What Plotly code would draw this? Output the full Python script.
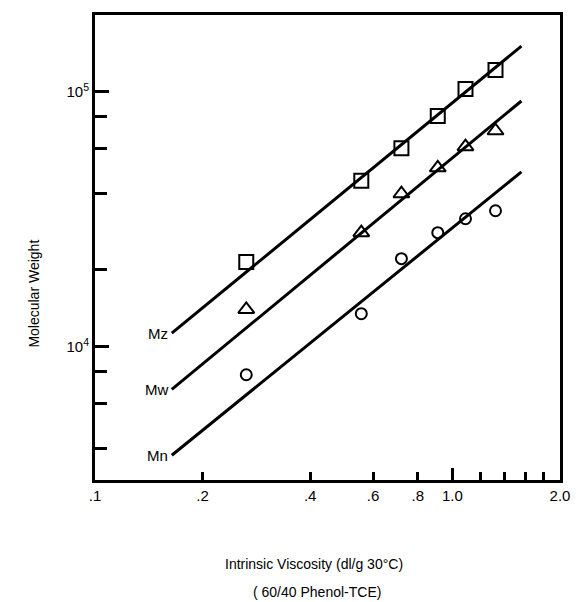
import numpy as np
import plotly.graph_objects as go

# ---- data ----
iv = [0.265, 0.556, 0.72, 0.91, 1.088, 1.32]          # intrinsic viscosity (dl/g)
mz_pts = [21500, 44800, 60000, 80300, 102500, 121700]
mw_pts = [14000, 28000, 39800, 50300, 60900, 70300]
mn_pts = [7760, 13470, 22140, 28000, 31760, 34140]

line_x = [0.164, 1.56]
mz_line = [11300, 151000]
mw_line = [6800, 92000]
mn_line = [3750, 48500]

line_labels = ["Mz", "Mw", "Mn"]

x_tickvals = [0.1, 0.2, 0.4, 0.6, 0.8, 1.0, 2.0]
x_ticktext = [".1", ".2", ".4", ".6", ".8", "1.0", "2.0"]
x_minor = [1.2, 1.4, 1.6, 1.8]
y_tickvals = [1e4, 1e5]
y_ticktext = ["10<sup>4</sup>", "10<sup>5</sup>"]
y_minor = [4e3, 6e3, 8e3, 2e4, 4e4, 6e4, 8e4]

FONT = "Liberation Sans, Arial, sans-serif"

fig = go.Figure()

for ly in [mz_line, mw_line, mn_line]:
    fig.add_trace(go.Scatter(x=line_x, y=ly, mode="lines",
                             line=dict(color="black", width=3),
                             showlegend=False, hoverinfo="skip"))

marker_specs = [
    (mz_pts, "square-open", 14),
    (mw_pts, "triangle-up-open", 14),
    (mn_pts, "circle-open", 11),
]
for pts, sym, sz in marker_specs:
    fig.add_trace(go.Scatter(x=iv, y=pts, mode="markers",
                             marker=dict(symbol=sym, size=sz, color="black",
                                         line=dict(color="black", width=2)),
                             showlegend=False))

# invisible trace for the overlay axis carrying the long 1.0 tick
fig.add_trace(go.Scatter(x=[1.0], y=[1e4], xaxis="x2", mode="markers",
                         marker=dict(opacity=0), showlegend=False, hoverinfo="skip"))

xr = [np.log10(0.1), np.log10(2.0)]
yr = [np.log10(3000), np.log10(2.0e5)]

fig.update_layout(
    width=582, height=602,
    margin=dict(l=95, r=19, t=12, b=122),
    paper_bgcolor="white", plot_bgcolor="white",
    font=dict(family=FONT, size=14, color="black"),
    xaxis=dict(type="log", range=xr, showgrid=False, zeroline=False,
               showline=True, mirror=True, linecolor="black", linewidth=3,
               ticks="inside", ticklen=8, tickwidth=3, tickcolor="black",
               tickvals=x_tickvals, ticktext=x_ticktext,
               tickfont=dict(size=15),
               minor=dict(tickvals=x_minor, ticks="inside", ticklen=8,
                          tickwidth=3, tickcolor="black", showgrid=False)),
    xaxis2=dict(type="log", range=xr, overlaying="x", side="bottom",
                showgrid=False, zeroline=False, showline=False,
                ticks="inside", ticklen=12, tickwidth=3, tickcolor="black",
                tickvals=[1.0], showticklabels=False),
    yaxis=dict(type="log", range=yr, showgrid=False, zeroline=False,
               showline=True, mirror=True, linecolor="black", linewidth=3,
               ticks="inside", ticklen=14, tickwidth=3, tickcolor="black",
               tickvals=y_tickvals, ticktext=y_ticktext,
               tickfont=dict(size=15),
               minor=dict(tickvals=y_minor, ticks="inside", ticklen=12,
                          tickwidth=3, tickcolor="black", showgrid=False)),
)

for lab, ly in zip(line_labels, [mz_line, mw_line, mn_line]):
    fig.add_annotation(x=np.log10(line_x[0]), y=np.log10(ly[0]), xref="x", yref="y",
                       text=lab, showarrow=False, xanchor="right", yanchor="middle",
                       xshift=-2, font=dict(size=15))

fig.add_annotation(xref="paper", yref="paper", x=-0.132, y=0.40,
                   text="Molecular Weight", textangle=-90, showarrow=False,
                   xanchor="center", yanchor="middle", font=dict(size=14))
fig.add_annotation(xref="paper", yref="paper", x=0.470, y=-0.1816,
                   text="Intrinsic Viscosity (dl/g 30°C)", showarrow=False,
                   xanchor="center", yanchor="middle", font=dict(size=14))
fig.add_annotation(xref="paper", yref="paper", x=0.4765, y=-0.2415,
                   text="( 60/40 Phenol-TCE)", showarrow=False,
                   xanchor="center", yanchor="middle", font=dict(size=14))

fig.write_html("out.html",
               config={"displayModeBar": False},
               post_script="document.body.style.margin='0';document.body.style.overflow='hidden';")
